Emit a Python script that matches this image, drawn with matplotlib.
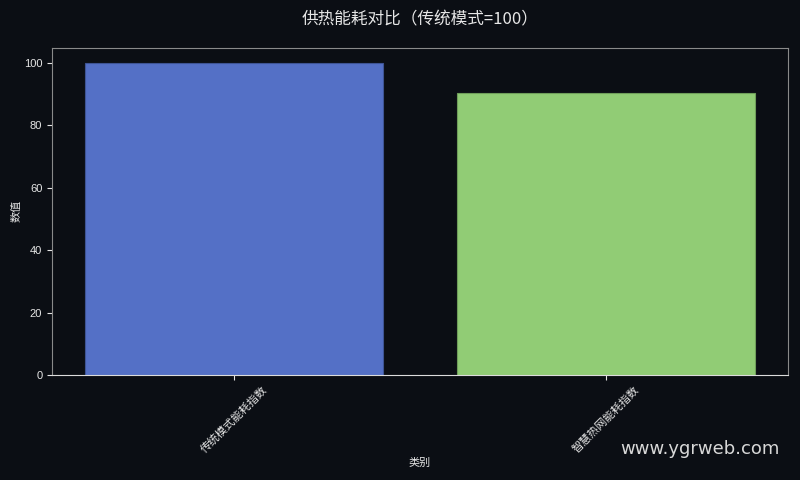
import numpy as np
import matplotlib
matplotlib.use("Agg")
import matplotlib.pyplot as plt

plt.rcParams['font.family'] = ['Noto Sans CJK SC', 'DejaVu Sans']

categories = ['传统模式能耗指数', '智慧热网能耗指数']
values = [100, 90.3]
bar_colors = ['#5470c6', '#91cc75']
edge_colors = ['#3e5494', '#6f9e5a']

bg = '#0b0e14'
text_color = '#e6e6e6'

fig = plt.figure(figsize=(8, 4.8), dpi=100, facecolor=bg)
ax = fig.add_axes([0.065, 0.219, 0.92, 0.682])
ax.set_facecolor(bg)

x = np.arange(len(categories))
ax.bar(x, values, width=0.8, color=bar_colors, edgecolor=edge_colors, linewidth=0.8)

ax.set_xticks(x)
ax.set_xticklabels(categories, rotation=45, ha='center', fontsize=8, color=text_color)
ax.tick_params(axis='y', labelsize=8, colors=text_color)
ax.tick_params(axis='x', colors=text_color)
for lab in ax.get_yticklabels():
    lab.set_family(['Liberation Sans', 'DejaVu Sans'])
ax.set_xlabel('类别', fontsize=8, color=text_color, labelpad=2)
ax.set_ylabel('数值', fontsize=8, color=text_color, labelpad=1.5)

for side in ['left', 'top', 'right']:
    ax.spines[side].set_color('#8a8a8a')
ax.spines['bottom'].set_color('#dcdcdc')

fig.text(0.525, 0.958, '供热能耗对比（传统模式=100）', ha='center', va='center',
         fontsize=12, color=text_color)
fig.text(0.975, 0.065, 'www.ygrweb.com', ha='right', va='center',
         fontsize=13, color='#d8d8d8', family=['DejaVu Sans'])

fig.savefig('out.png', dpi=100, facecolor=bg)
